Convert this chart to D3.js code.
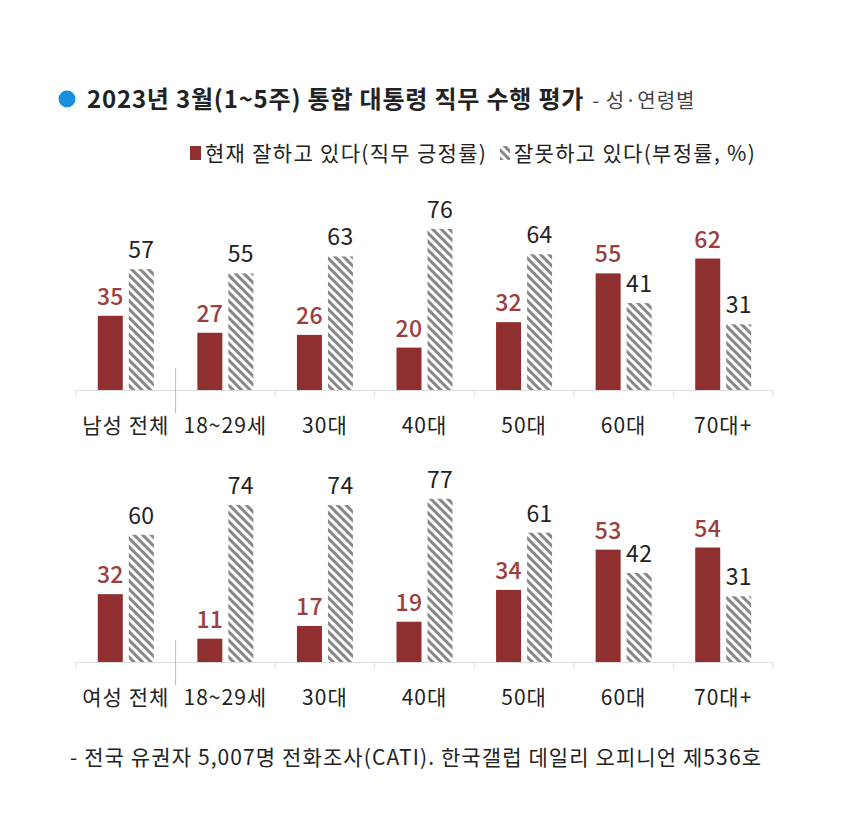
<!DOCTYPE html>
<html><head><meta charset="utf-8">
<script src="https://cdn.jsdelivr.net/npm/d3@7"></script>
<style>
body{margin:0;background:#fff;}
svg{display:block;font-family:"Noto Sans CJK KR","Noto Sans",sans-serif;}
</style></head>
<body><svg id="c" width="850" height="813"></svg>
<script>
const categoriesMale = ["남성 전체","18~29세","30대","40대","50대","60대","70대+"];
const categoriesFemale = ["여성 전체","18~29세","30대","40대","50대","60대","70대+"];
const malePositive = [35,27,26,20,32,55,62];
const maleNegative = [57,55,63,76,64,41,31];
const femalePositive = [32,11,17,19,34,53,54];
const femaleNegative = [60,74,74,77,61,42,31];
const seriesNames = ["현재 잘하고 있다(직무 긍정률)","잘못하고 있다(부정률, %)"];
const titleText = "2023년 3월(1~5주) 통합 대통령 직무 수행 평가";
const subtitleText = "- 성·연령별";
const footnoteText = "- 전국 유권자 5,007명 전화조사(CATI). 한국갤럽 데일리 오피니언 제536호";

const svg = d3.select("#c");
const RED = "#8f2f2f", RED_TXT = "#9c3e3e", DARK = "#222";

const defs = svg.append("defs");
const pat = defs.append("pattern").attr("id","hatch").attr("patternUnits","userSpaceOnUse")
  .attr("width",6).attr("height",6).attr("patternTransform","rotate(-45)");
pat.append("rect").attr("width",6).attr("height",6).attr("fill","#fff");
pat.append("rect").attr("x",0).attr("y",0).attr("width",3).attr("height",6).attr("fill","#878787");

// title
svg.append("circle").attr("cx",67).attr("cy",99).attr("r",8.5).attr("fill","#1a8fe0");
const t = svg.append("text").attr("x",87).attr("y",108).attr("fill",DARK);
t.append("tspan").attr("font-size",24).attr("font-weight","bold").attr("letter-spacing",0.8).text(titleText);
t.append("tspan").attr("font-size",20).attr("fill","#444").attr("dx",8).attr("letter-spacing",1).text(subtitleText);

// legend
const lg = svg.append("g");
lg.append("rect").attr("x",190).attr("y",146).attr("width",11).attr("height",14).attr("fill",RED);
lg.append("text").attr("x",205).attr("y",161).attr("font-size",21).attr("letter-spacing",1.3).attr("fill",DARK).text(seriesNames[0]);
lg.append("rect").attr("x",500).attr("y",146).attr("width",10).attr("height",14).attr("fill","url(#hatch)");
lg.append("text").attr("x",514).attr("y",161).attr("font-size",21).attr("letter-spacing",1.3).attr("fill",DARK).text(seriesNames[1]);

const x0 = d3.scaleBand().domain(d3.range(7)).range([76,773]).padding(0);
const x1 = d3.scaleBand().domain(["pos","neg"]).range([0,56]).paddingInner(0.1935);
const y = d3.scaleLinear().domain([0,100]).range([0,212]);

function panel(baseline, cats, pos, neg){
  const g = svg.append("g");
  g.append("line").attr("x1",76).attr("x2",773).attr("y1",baseline+0.5).attr("y2",baseline+0.5)
    .attr("stroke","#dcdcdc").attr("stroke-width",1);
  const bounds = d3.range(8).map(i => i<7 ? x0(i) : x0(6)+x0.bandwidth());
  bounds.forEach((b,i)=>{
    if(i===1){
      g.append("line").attr("x1",b).attr("x2",b).attr("y1",baseline-22).attr("y2",baseline+23)
        .attr("stroke","#bdbdbd").attr("stroke-width",1);
    } else {
      g.append("line").attr("x1",b).attr("x2",b).attr("y1",baseline).attr("y2",baseline+7)
        .attr("stroke","#dcdcdc").attr("stroke-width",1);
    }
  });
  const data = cats.map((c,i)=>({i, c, pos:pos[i], neg:neg[i]}));
  const grp = g.selectAll("g.grp").data(data).join("g")
    .attr("transform", d=>`translate(${x0(d.i)+x0.bandwidth()/2-28},0)`);
  grp.append("rect").attr("x",x1("pos")).attr("width",x1.bandwidth())
    .attr("y",d=>baseline-y(d.pos)).attr("height",d=>y(d.pos)).attr("fill",RED);
  grp.append("rect").attr("x",x1("neg")).attr("width",x1.bandwidth())
    .attr("y",d=>baseline-y(d.neg)).attr("height",d=>y(d.neg)).attr("fill","url(#hatch)");
  grp.append("text").attr("x",x1("pos")+x1.bandwidth()/2).attr("y",d=>baseline-y(d.pos)-11)
    .attr("text-anchor","middle").attr("font-size",23).attr("font-weight",500).attr("letter-spacing",0.3).attr("fill",RED_TXT).text(d=>d.pos);
  grp.append("text").attr("x",x1("neg")+x1.bandwidth()/2).attr("y",d=>baseline-y(d.neg)-11)
    .attr("text-anchor","middle").attr("font-size",23).attr("letter-spacing",0.3).attr("fill",DARK).text(d=>d.neg);
  g.selectAll("text.cat").data(data).join("text").attr("class","cat")
    .attr("x",d=>x0(d.i)+x0.bandwidth()/2).attr("y",baseline+43)
    .attr("text-anchor","middle").attr("font-size",21).attr("letter-spacing",1).attr("fill",DARK).text(d=>d.c);
}
panel(390, categoriesMale, malePositive, maleNegative);
panel(662, categoriesFemale, femalePositive, femaleNegative);

svg.append("text").attr("x",70).attr("y",765).attr("font-size",21).attr("letter-spacing",1.1).attr("fill",DARK).text(footnoteText);
</script></body></html>
